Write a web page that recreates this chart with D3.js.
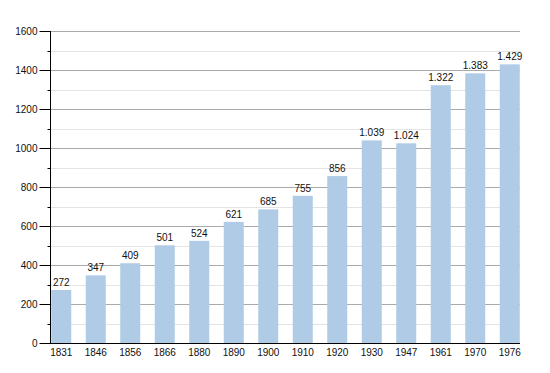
<!DOCTYPE html>
<html>
<head>
<meta charset="utf-8">
<script src="https://cdn.jsdelivr.net/npm/d3@7"></script>
<style>
  body { margin: 0; background: #fff; }
  text { font-family: "Liberation Sans", Arial, sans-serif; font-size: 10px; fill: #111; }
</style>
</head>
<body>
<svg width="550" height="373"></svg>
<script>
// population by census year
var years = ["1831", "1846", "1856", "1866", "1880", "1890", "1900", "1910", "1920", "1930", "1947", "1961", "1970", "1976"];
var population = [272, 347, 409, 501, 524, 621, 685, 755, 856, 1039, 1024, 1322, 1383, 1429];
var majorTicks = [0, 200, 400, 600, 800, 1000, 1200, 1400, 1600];
var minorTicks = [100, 300, 500, 700, 900, 1100, 1300, 1500];

var svg = d3.select("svg");
var plotLeft = 50, plotRight = 520, plotTop = 31, plotBottom = 343;

var x = d3.scaleBand()
  .domain(years)
  .range([44, 527])
  .paddingInner(0.42)
  .paddingOuter(0.21);

var y = d3.scaleLinear()
  .domain([0, 1600])
  .range([plotBottom, plotTop]);

// thousands with a dot
var fmt = d3.formatLocale({ decimal: ",", thousands: ".", grouping: [3], currency: ["", ""] }).format(",d");

// minor grid
svg.append("g").selectAll("line")
  .data(minorTicks)
  .enter().append("line")
  .attr("x1", plotLeft).attr("x2", plotRight)
  .attr("y1", function (d) { return Math.round(y(d)) + 0.5; })
  .attr("y2", function (d) { return Math.round(y(d)) + 0.5; })
  .attr("stroke", "#e4e4e4");

// major grid
svg.append("g").selectAll("line")
  .data(majorTicks.slice(1))
  .enter().append("line")
  .attr("x1", plotLeft).attr("x2", plotRight)
  .attr("y1", function (d) { return Math.round(y(d)) + 0.5; })
  .attr("y2", function (d) { return Math.round(y(d)) + 0.5; })
  .attr("stroke", "#aaa");

// bars
svg.append("g").selectAll("rect")
  .data(population)
  .enter().append("rect")
  .attr("x", function (d, i) { return x(years[i]); })
  .attr("y", function (d) { return y(d); })
  .attr("width", x.bandwidth())
  .attr("height", function (d) { return plotBottom - y(d); })
  .attr("fill", "#b0cbe5");

// value labels
svg.append("g").selectAll("text")
  .data(population)
  .enter().append("text")
  .attr("x", function (d, i) { return x(years[i]) + x.bandwidth() / 2; })
  .attr("y", function (d) { return y(d) - 4; })
  .attr("text-anchor", "middle")
  .text(function (d) { return fmt(d); });

// y axis
var yAxis = d3.axisLeft(y).tickValues(majorTicks).tickFormat(d3.format("d")).tickSize(11).tickPadding(2);
var gy = svg.append("g").attr("transform", "translate(" + (plotLeft + 0.5) + ",0)").call(yAxis);
gy.select(".domain").remove();
gy.selectAll(".tick line").attr("stroke", "#000");
gy.selectAll(".tick text").attr("fill", "#111").style("font-size", "10px").style("font-family", "Liberation Sans, Arial, sans-serif");
gy.append("g").selectAll("line")
  .data(minorTicks)
  .enter().append("line")
  .attr("x1", -3).attr("x2", 0)
  .attr("y1", function (d) { return Math.round(y(d)) + 0.5; })
  .attr("y2", function (d) { return Math.round(y(d)) + 0.5; })
  .attr("stroke", "#000");
gy.append("line")
  .attr("x1", 0).attr("x2", 0)
  .attr("y1", plotTop).attr("y2", plotBottom)
  .attr("stroke", "#000");

// x axis
svg.append("line")
  .attr("x1", plotLeft).attr("x2", plotRight)
  .attr("y1", plotBottom + 0.5).attr("y2", plotBottom + 0.5)
  .attr("stroke", "#000");

svg.append("g").selectAll("text")
  .data(years)
  .enter().append("text")
  .attr("x", function (d) { return x(d) + x.bandwidth() / 2; })
  .attr("y", 356)
  .attr("text-anchor", "middle")
  .text(function (d) { return d; });
</script>
</body>
</html>
